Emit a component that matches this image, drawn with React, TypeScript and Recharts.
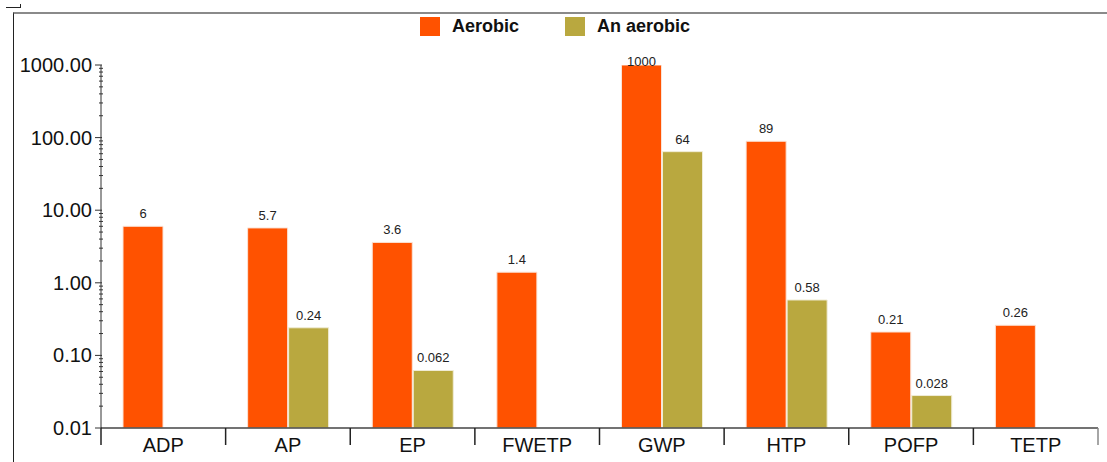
import React from 'react';
import { BarChart, Bar, XAxis, YAxis, LabelList } from 'recharts';

const categories = ['ADP', 'AP', 'EP', 'FWETP', 'GWP', 'HTP', 'POFP', 'TETP'];
const aerobic = [6, 5.7, 3.6, 1.4, 1000, 89, 0.21, 0.26];
const anaerobic: (number | null)[] = [null, 0.24, 0.062, null, 64, 0.58, 0.028, null];
const majorTicks = [0.01, 0.1, 1, 10, 100, 1000];

const AEROBIC_COLOR = '#FF5200';
const ANAEROBIC_COLOR = '#B9A83F';

const W = 1107;
const H = 462;
const MARGIN = { top: 65, right: 9, bottom: 4, left: 0 };
const Y_AXIS_W = 101;
const X_AXIS_H = 30;
const AXIS_X = MARGIN.left + Y_AXIS_W;
const AXIS_Y = H - MARGIN.bottom - X_AXIS_H;
const PLOT_TOP = MARGIN.top;
const BAND = (W - AXIS_X - MARGIN.right) / categories.length;

// major decades plus 2..9 minor ticks inside each decade
const allTicks: number[] = [];
majorTicks.forEach((m, i) => {
  allTicks.push(m);
  if (i < majorTicks.length - 1) {
    for (let k = 2; k <= 9; k++) allTicks.push(+(m * k).toPrecision(3));
  }
});

const data = categories.map((name, i) => ({
  name,
  Aerobic: aerobic[i],
  Anaerobic: anaerobic[i],
}));

const YTick = (props: any) => {
  const { y, payload } = props;
  const v = payload.value;
  const isMajor = majorTicks.some((m) => Math.abs(m - v) < 1e-9);
  if (!isMajor) {
    return <line x1={AXIS_X - 2} x2={AXIS_X + 2} y1={y} y2={y} stroke="#333" strokeWidth={1} />;
  }
  return (
    <g>
      <line x1={AXIS_X - 6} x2={AXIS_X + 1} y1={y} y2={y} stroke="#333" strokeWidth={1} />
      <text x={AXIS_X - 9} y={y} dy={7} textAnchor="end" fontSize={20} fill="#111" fontFamily="'Liberation Sans', Arial, sans-serif">
        {v.toFixed(2)}
      </text>
    </g>
  );
};

const XTick = (props: any) => {
  const { x, payload, index } = props;
  const last = index === categories.length - 1;
  return (
    <g>
      <line x1={x - BAND / 2} x2={x - BAND / 2} y1={AXIS_Y} y2={AXIS_Y + 17} stroke="#222" strokeWidth={1.5} />
      {last && (
        <line x1={x + BAND / 2} x2={x + BAND / 2} y1={AXIS_Y} y2={AXIS_Y + 17} stroke="#888" strokeWidth={1.5} />
      )}
      <text x={x} y={AXIS_Y + 24} textAnchor="middle" fontSize={20} fill="#111" fontFamily="'Liberation Sans', Arial, sans-serif">
        {payload.value}
      </text>
    </g>
  );
};

const BarLabel = (props: any) => {
  const { x, y, width, value } = props;
  if (value == null) return null;
  const baseline = Math.max(y - 8, PLOT_TOP + 1);
  return (
    <text x={x + width / 2} y={baseline} textAnchor="middle" fontSize={13} fill="#222" fontFamily="'Liberation Sans', Arial, sans-serif">
      {value}
    </text>
  );
};

const legendItems = [
  { label: 'Aerobic', color: AEROBIC_COLOR, left: 420 },
  { label: 'An aerobic', color: ANAEROBIC_COLOR, left: 565 },
];

export default function App() {
  return (
    <div style={{ position: 'absolute', left: 0, top: 0, width: W, height: H, background: '#fff', overflow: 'hidden' }}>
      {/* frame */}
      <div style={{ position: 'absolute', left: 13, top: 12, width: W - 13, height: H - 12, borderTop: '2px solid #8a8a8a', borderLeft: '1px solid #222', boxSizing: 'border-box' }} />
      <div style={{ position: 'absolute', left: 6, top: 7, width: 14, height: 0, borderTop: '1px solid #222' }} />
      <div style={{ position: 'absolute', left: 20, top: 4, width: 0, height: 4, borderLeft: '1px solid #222' }} />

      {/* legend */}
      {legendItems.map((it) => (
        <div key={it.label} style={{ position: 'absolute', left: it.left, top: 16, display: 'flex', alignItems: 'center', fontFamily: "'Liberation Sans', Arial, sans-serif", fontWeight: 'bold', fontSize: 18, color: '#111' }}>
          <span style={{ display: 'inline-block', width: 20, height: 19, background: it.color, marginRight: 12 }} />
          <span>{it.label}</span>
        </div>
      ))}

      <div style={{ position: 'absolute', left: 0, top: 0 }}>
        <BarChart width={W} height={H} data={data} margin={MARGIN} barGap={1} barSize={40}>
          <XAxis
            dataKey="name"
            height={X_AXIS_H}
            axisLine={{ stroke: '#444', strokeWidth: 1.5 }}
            tickLine={false}
            tick={<XTick />}
            interval={0}
          />
          <YAxis
            width={Y_AXIS_W}
            scale="log"
            type="number"
            domain={[0.01, 1000]}
            allowDataOverflow
            ticks={allTicks}
            interval={0}
            axisLine={{ stroke: '#333', strokeWidth: 1 }}
            tickLine={false}
            tick={<YTick />}
          />
          <Bar dataKey="Aerobic" fill={AEROBIC_COLOR} stroke="#fbe3d6" strokeWidth={1} isAnimationActive={false}>
            <LabelList dataKey="Aerobic" content={<BarLabel />} />
          </Bar>
          <Bar dataKey="Anaerobic" fill={ANAEROBIC_COLOR} stroke="#f0ecd6" strokeWidth={1} isAnimationActive={false}>
            <LabelList dataKey="Anaerobic" content={<BarLabel />} />
          </Bar>
        </BarChart>
      </div>
    </div>
  );
}
